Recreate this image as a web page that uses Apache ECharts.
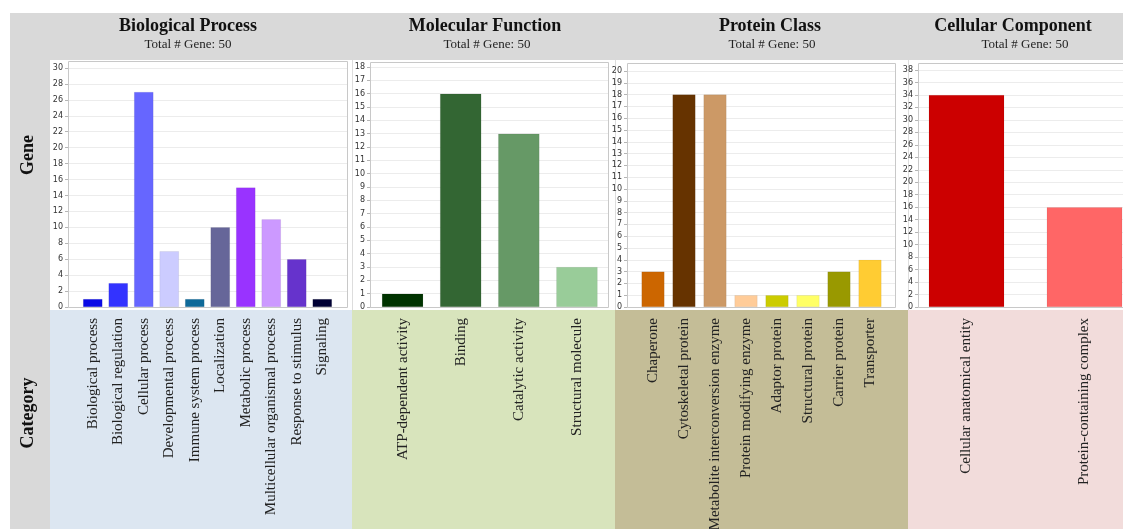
<!DOCTYPE html>
<html>
<head>
<meta charset="utf-8">
<script src="https://cdn.jsdelivr.net/npm/echarts@6/dist/echarts.min.js"></script>
<style>
html,body{margin:0;padding:0;background:#fff;}
#c{width:1123px;height:529px;}
</style>
</head>
<body>
<div id="c"></div>
<script>
// ---- data ----
var bpCategories = ["Biological process","Biological regulation","Cellular process","Developmental process","Immune system process","Localization","Metabolic process","Multicellular organismal process","Response to stimulus","Signaling"];
var bpValues = [1, 3, 27, 7, 1, 10, 15, 11, 6, 1];
var bpColors = ["#0a0ae6","#3333ff","#6666ff","#ccccff","#0f6a99","#666699","#9933ff","#cc99ff","#6633cc","#000033"];

var mfCategories = ["ATP-dependent activity","Binding","Catalytic activity","Structural molecule"];
var mfValues = [1, 16, 13, 3];
var mfColors = ["#003300","#336633","#669966","#99cc99"];

var pcCategories = ["Chaperone","Cytoskeletal protein","Metabolite interconversion enzyme","Protein modifying enzyme","Adaptor protein","Structural protein","Carrier protein","Transporter"];
var pcValues = [3, 18, 18, 1, 1, 1, 3, 4];
var pcColors = ["#cc6600","#663300","#cc9966","#ffcc99","#cccc00","#ffff66","#999900","#ffcc33"];

var ccCategories = ["Cellular anatomical entity","Protein-containing complex"];
var ccValues = [34, 16];
var ccColors = ["#cc0000","#ff6666"];

var panelTitles = ["Biological Process","Molecular Function","Protein Class","Cellular Component"];
var panelSubtitle = "Total # Gene: 50";
var axisMax = [30, 18, 20, 38];
var axisInterval = [2, 1, 1, 2];

// ---- layout (pixels) ----
var H = 529, W = 1123, y0 = 307;
var panels = [
  {cats: bpCategories, vals: bpValues, cols: bpColors, axisX: 68, boxR: 347, boxT: 61, yTop: 68, barL: 80, barW: 255, bw: '76%', titleX: 188, subX: 188, bandL: 50, bandR: 352},
  {cats: mfCategories, vals: mfValues, cols: mfColors, axisX: 370, boxR: 608, boxT: 62, yTop: 67, barL: 373.5, barW: 232.5, bw: '71%', titleX: 485, subX: 487, bandL: 352, bandR: 615},
  {cats: pcCategories, vals: pcValues, cols: pcColors, axisX: 627, boxR: 895, boxT: 63, yTop: 71, barL: 637.5, barW: 248, bw: '74%', titleX: 770, subX: 772, bandL: 615, bandR: 908},
  {cats: ccCategories, vals: ccValues, cols: ccColors, axisX: 918, boxR: 1135, boxT: 63, yTop: 70, barL: 907.5, barW: 236, bw: '64%', titleX: 1013, subX: 1025, bandL: 908, bandR: 1123}
];
var bandColors = ["#dce6f1","#d8e4bc","#c4bd97","#f2dcdb"];

var grids = [], xAxes = [], yAxes = [], series = [], graphics = [];

// background blocks
graphics.push({type:'rect', z:-20, shape:{x:10,y:13,width:W-10,height:47}, style:{fill:'#d9d9d9'}});
graphics.push({type:'rect', z:-20, shape:{x:10,y:13,width:40,height:H-13}, style:{fill:'#d9d9d9'}});
graphics.push({type:'rect', z:-20, shape:{x:50,y:60,width:W-50,height:250}, style:{fill:'#ffffff'}});

panels.forEach(function(p, i){
  var top = p.yTop, bottom = H - y0;
  // category band
  graphics.push({type:'rect', z:-19, shape:{x:p.bandL,y:310,width:p.bandR-p.bandL,height:H-310}, style:{fill:bandColors[i]}});
  // plot box
  graphics.push({type:'rect', z:30, shape:{x:p.axisX+0.5,y:p.boxT+0.5,width:p.boxR-p.axisX,height:y0-p.boxT}, style:{fill:'none',stroke:'#c8c8c8',lineWidth:1}});
  // titles
  graphics.push({type:'text', z:30, x:p.titleX, y:26, style:{text:panelTitles[i], font:'bold 18px "Liberation Serif"', fill:'#111', align:'center', verticalAlign:'middle'}});
  graphics.push({type:'text', z:30, x:p.subX, y:45, style:{text:panelSubtitle, font:'13px "Liberation Serif"', fill:'#222', align:'center', verticalAlign:'middle'}});

  // background grid (gridlines, y labels)
  var gi = grids.length;
  grids.push({left:p.axisX, top:top, width:p.boxR-p.axisX, bottom:bottom, containLabel:false, outerBoundsMode:'none'});
  xAxes.push({gridIndex:gi, type:'category', data:[''], show:false});
  yAxes.push({gridIndex:gi, type:'value', min:0, max:axisMax[i], interval:axisInterval[i],
    axisLine:{show:true, lineStyle:{color:'#b5b5b5'}},
    axisTick:{show:true, length:3, lineStyle:{color:'#b5b5b5'}},
    axisLabel:{fontSize:8, color:'#333', fontFamily:'DejaVu Sans', margin:5},
    splitLine:{show:true, lineStyle:{color:'#ececec', width:1}}});
  series.push({type:'bar', xAxisIndex:gi, yAxisIndex:gi, data:[], silent:true});

  // bar grid
  var bi = grids.length;
  grids.push({left:p.barL, top:top, width:p.barW, bottom:bottom, containLabel:false, outerBoundsMode:'none'});
  xAxes.push({gridIndex:bi, type:'category', data:p.cats,
    axisLine:{show:false}, axisTick:{show:false},
    axisLabel:{interval:0, rotate:90, margin:11, fontSize:15, color:'#222', fontFamily:'Liberation Serif'}});
  yAxes.push({gridIndex:bi, type:'value', min:0, max:axisMax[i], interval:axisInterval[i], show:false, splitLine:{show:false}});
  series.push({type:'bar', xAxisIndex:bi, yAxisIndex:bi, barWidth:p.bw, animation:false,
    data:p.vals.map(function(v, k){ return {value:v, itemStyle:{color:p.cols[k], borderColor:'rgba(0,0,0,0.12)', borderWidth:0.5}}; })});
});

// separators
[352, 615, 908].forEach(function(x){
  graphics.push({type:'line', z:-18, shape:{x1:x+0.5,y1:60,x2:x+0.5,y2:310}, style:{stroke:'#dddddd',lineWidth:1}});
});

// side labels
graphics.push({type:'text', z:30, x:28, y:155, rotation:Math.PI/2, style:{text:'Gene', font:'bold 18px "Liberation Serif"', fill:'#111', align:'center', verticalAlign:'middle'}});
graphics.push({type:'text', z:30, x:28, y:413, rotation:Math.PI/2, style:{text:'Category', font:'bold 18px "Liberation Serif"', fill:'#111', align:'center', verticalAlign:'middle'}});

var chart = echarts.init(document.getElementById('c'));
chart.setOption({
  animation:false,
  backgroundColor:'#ffffff',
  grid:grids, xAxis:xAxes, yAxis:yAxes, series:series,
  graphic:{elements:graphics}
});
</script>
</body>
</html>
